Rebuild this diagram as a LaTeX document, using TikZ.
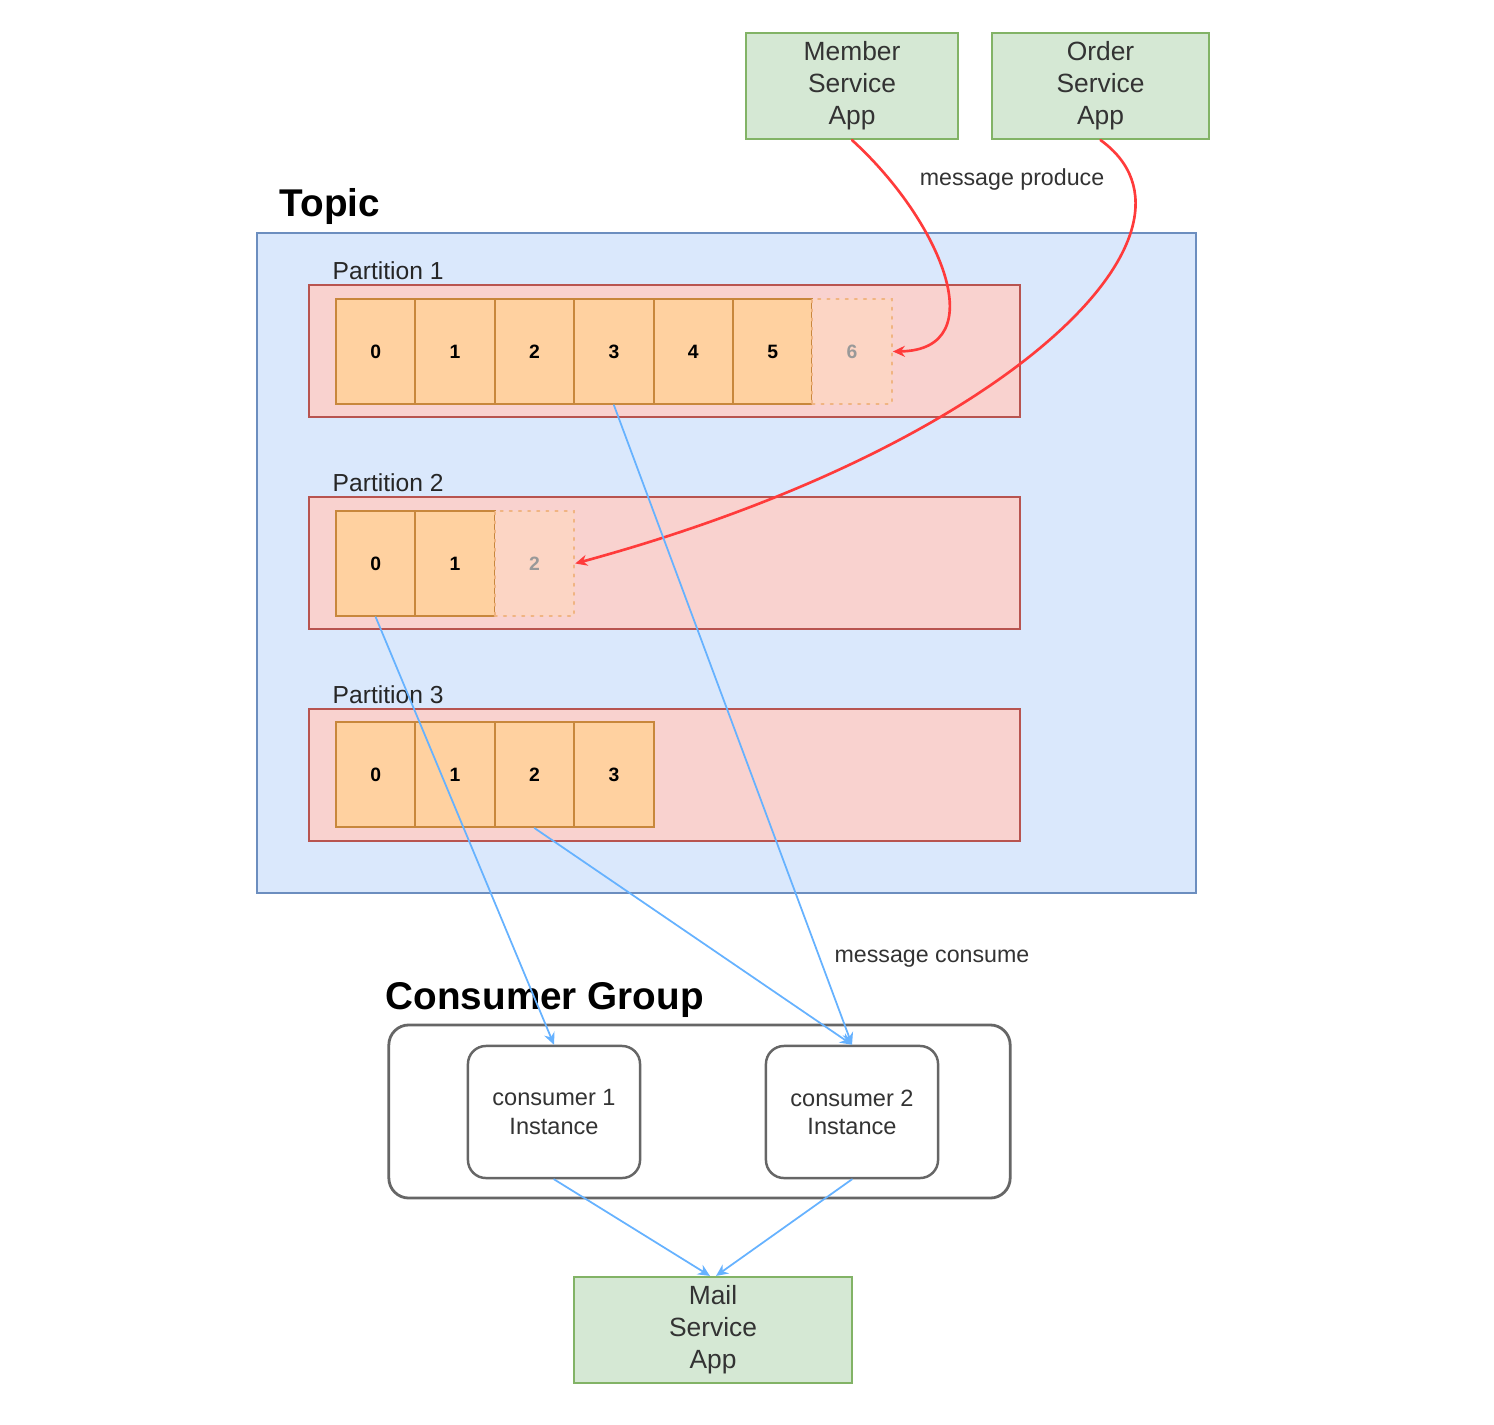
\documentclass[tikz,border=0pt]{standalone}
\usepackage{fontspec}
\setmainfont{Liberation Sans}
\usetikzlibrary{arrows.meta}
\usepackage{xcolor}
\definecolor{appfill}{HTML}{D5E8D4}
\definecolor{appedge}{HTML}{82B366}
\definecolor{topicfill}{HTML}{DAE8FC}
\definecolor{topicedge}{HTML}{6C8EBF}
\definecolor{partfill}{HTML}{F9D2CF}
\definecolor{partedge}{HTML}{B85450}
\definecolor{cellfill}{HTML}{FFD1A0}
\definecolor{celledge}{HTML}{C8873C}
\definecolor{ghostfill}{HTML}{FCD5C4}
\definecolor{ghostedge}{HTML}{F0B482}
\definecolor{produceline}{HTML}{FF3B3B}
\definecolor{consumeline}{HTML}{66B2FF}
\definecolor{txt}{HTML}{333333}

\begin{document}
\begin{tikzpicture}[x=0.01cm,y=-0.01cm,>={Stealth[length=1.2mm,width=1.1mm]},line cap=round,
  app/.style={draw=appedge,fill=appfill,line width=0.6pt,inner sep=1pt,minimum height=1.06cm,align=center,text=txt,font=\fontsize{7.5}{9.1}\selectfont},
  part/.style={draw=partedge,fill=partfill,line width=0.6pt,minimum width=7.11cm,minimum height=1.32cm},
  cell/.style={draw=celledge,fill=cellfill,line width=0.6pt,minimum width=0.794cm,minimum height=1.05cm,font=\fontsize{5.5}{6}\bfseries},
  ghost/.style={draw=ghostedge,fill=ghostfill,dotted,line width=0.6pt,minimum width=0.794cm,minimum height=1.05cm,text=black!40,font=\fontsize{5.5}{6}\bfseries},
  partlabel/.style={anchor=west,inner sep=0pt,text=black!85,font=\fontsize{7}{8}\selectfont},
  title/.style={anchor=west,inner sep=0pt,font=\fontsize{11}{13}\bfseries},
  consumer/.style={draw=black!60,fill=white,line width=0.7pt,rounded corners=0.18cm,minimum width=1.72cm,minimum height=1.32cm,align=center,text=txt,font=\fontsize{6.7}{8}\selectfont},
  note/.style={text=txt,font=\fontsize{6.6}{8}\selectfont},
  produce/.style={->,produceline,line width=0.75pt},
  consume/.style={->,consumeline,line width=0.5pt}]
\useasboundingbox (0,0) rectangle (1494,1424);
\node[app,minimum width=2.12cm] (member) at (852,86) {Member\\Service\\App};
\node[app,minimum width=2.17cm] (order) at (1100.5,86) {Order\\Service\\App};
\node[note] (produce) at (1012,179) {message produce};
\node[title] (topiclabel) at (279,206) {Topic};
\node[draw=topicedge,fill=topicfill,line width=0.6pt,minimum width=9.39cm,minimum height=6.60cm] (topic) at (726.5,563) {};
\node[partlabel] (p1label) at (332,271) {Partition 1};
\node[part] (p1) at (664.5,351) {};
\node[cell] (p1c0) at (375.7,351.5) {0};
\node[cell] (p1c1) at (455.1,351.5) {1};
\node[cell] (p1c2) at (534.5,351.5) {2};
\node[cell] (p1c3) at (613.9,351.5) {3};
\node[cell] (p1c4) at (693.3,351.5) {4};
\node[cell] (p1c5) at (772.7,351.5) {5};
\node[ghost] (p1c6) at (852.1,351.5) {6};
\node[partlabel] (p2label) at (332,483) {Partition 2};
\node[part] (p2) at (664.5,563) {};
\node[cell] (p2c0) at (375.7,563.5) {0};
\node[cell] (p2c1) at (455.1,563.5) {1};
\node[ghost] (p2c2) at (534.5,563.5) {2};
\node[partlabel] (p3label) at (332,695) {Partition 3};
\node[part] (p3) at (664.5,775) {};
\node[cell] (p3c0) at (375.7,774.5) {0};
\node[cell] (p3c1) at (455.1,774.5) {1};
\node[cell] (p3c2) at (534.5,774.5) {2};
\node[cell] (p3c3) at (613.9,774.5) {3};
\node[note] (consume) at (932,959) {message consume};
\node[title] (grouplabel) at (385,1000) {Consumer Group};
\node[draw=black!60,fill=white,line width=0.8pt,rounded corners=0.2cm,minimum width=6.21cm,minimum height=1.73cm] (group) at (699.5,1111.5) {};
\node[consumer] (c1) at (554,1112) {consumer 1\\Instance};
\node[consumer] (c2) at (852,1112) {consumer 2\\Instance};
\node[app,minimum width=2.78cm] (mail) at (713,1330) {Mail\\Service\\App};
\draw[produce] (member.south) .. controls (940,220) and (995,350) .. (p1c6.east);
\draw[produce] (order.south) .. controls (1225,230) and (1010,445) .. (p2c2.east);
\draw[consume] (p1c3.south) -- (c2.north);
\draw[consume] (p2c0.south) -- (c1.north);
\draw[consume] (p3c2.south) -- (c2.north);
\draw[consume] (c1.south) -- ([xshift=-0.03cm]mail.north);
\draw[consume] (c2.south) -- ([xshift=0.03cm]mail.north);
\end{tikzpicture}
\end{document}
